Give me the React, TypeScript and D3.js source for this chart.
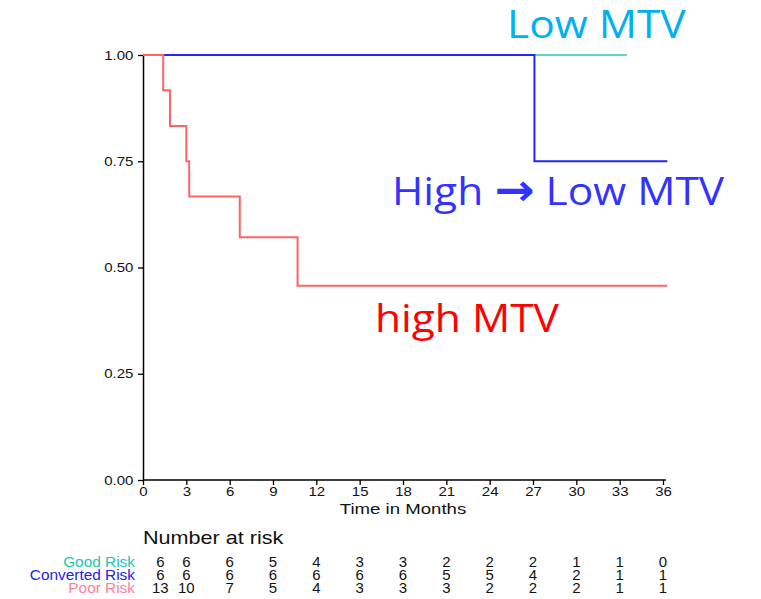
import * as d3 from "d3";
import {useRef, useEffect} from "react";

// survival steps: [time, survival]
const goodRisk = [[0, 1], [33.5, 1]];
const convertedRisk = [[0, 1], [27.1, 1], [27.1, 0.75], [36.3, 0.75]];
const poorRisk = [
  [0, 1], [1.4, 1], [1.4, 0.917], [1.87, 0.917], [1.87, 0.833], [3.0, 0.833],
  [3.0, 0.75], [3.2, 0.75], [3.2, 0.667], [6.7, 0.667], [6.7, 0.571],
  [10.7, 0.571], [10.7, 0.457], [36.3, 0.457]
];

const xTicks = [0, 3, 6, 9, 12, 15, 18, 21, 24, 27, 30, 33, 36];
const yTicks = [0, 0.25, 0.5, 0.75, 1];

const riskTimes = [1.2, 3, 6, 9, 12, 15, 18, 21, 24, 27, 30, 33, 36];
const riskLabels = ["Good Risk", "Converted Risk", "Poor Risk"];
const riskColors = ["#22c4b4", "#2222ee", "#ff7f9a"];
const riskGood = [6, 6, 6, 5, 4, 3, 3, 2, 2, 2, 1, 1, 0];
const riskConverted = [6, 6, 6, 6, 6, 6, 6, 5, 5, 4, 2, 1, 1];
const riskPoor = [13, 10, 7, 5, 4, 3, 3, 3, 2, 2, 2, 1, 1];

const arial = "Liberation Sans, Arial, sans-serif";
const calibri = "Open Sans, Lato, sans-serif";

// the source picture is stretched sideways, so texts get a horizontal scale
function SText({x, y, sx = 1.2, children, ...rest}) {
  return (
    <g transform={`translate(${x},${y}) scale(${sx},1)`}>
      <text {...rest}>{children}</text>
    </g>
  );
}

export default function App({
  width = 761,
  height = 599,
  marginTop = 55,
  marginLeft = 143,
  plotRight = 663,
  plotBottom = 480
}) {
  const gx = useRef(null);
  const gy = useRef(null);
  const x = d3.scaleLinear([0, 36], [marginLeft, plotRight]);
  const y = d3.scaleLinear([0, 1], [plotBottom, marginTop]);
  const line = d3.line().x((d) => x(d[0])).y((d) => y(d[1]));

  useEffect(() => {
    const ax = d3.select(gx.current);
    ax.call(d3.axisBottom(x).tickValues(xTicks).tickSize(5).tickSizeOuter(0).tickPadding(2));
    ax.select(".domain").attr("d", `M${marginLeft},0H${x(36.2)}`).attr("stroke-width", 1.5);
    ax.selectAll(".tick line").attr("stroke-width", 1.3);
    ax.selectAll("text").attr("font-size", 12.5).attr("font-family", arial).attr("fill", "#111")
      .attr("transform", "scale(1.2,1)");
  }, [x]);

  useEffect(() => {
    const ay = d3.select(gy.current);
    ay.call(d3.axisLeft(y).tickValues(yTicks).tickFormat(d3.format(".2f")).tickSize(5).tickSizeOuter(0).tickPadding(3));
    ay.selectAll(".tick line").attr("stroke-width", 1.3);
    ay.selectAll(".domain").attr("stroke-width", 1.5);
    ay.selectAll("text").attr("font-size", 12.5).attr("font-family", arial).attr("fill", "#111")
      .attr("transform", "scale(1.2,1)");
  }, [y]);

  const rows = [riskGood, riskConverted, riskPoor];

  return (
    <svg width={width} height={height} style={{position: "absolute", left: 0, top: 0, background: "#fff"}}>
      <g ref={gx} transform={`translate(0,${plotBottom})`} />
      <g ref={gy} transform={`translate(${marginLeft},0)`} />
      <SText x={x(18)} y={514} textAnchor="middle" fontSize={15.5} fontFamily={arial} fill="#111">Time in Months</SText>

      <path fill="none" stroke="#2cc4c4" strokeWidth={1.5} d={line(goodRisk)} />
      <path fill="none" stroke="#2424f4" strokeWidth={2} d={line(convertedRisk)} />
      <path fill="none" stroke="#ff6464" strokeWidth={2} d={line(poorRisk)} />

      <SText x={507} y={38} sx={1.09} fontSize={39} fontFamily={calibri} fill="#00b0f0">Low MTV</SText>
      <SText x={392} y={205} sx={1.09} fontSize={39} fontFamily={calibri} fill="#3333ff">
        High <tspan fontWeight="bold" fontFamily="DejaVu Sans, sans-serif" fontSize={44}>→</tspan> Low MTV
      </SText>
      <SText x={375} y={332} sx={1.09} fontSize={39} fontFamily={calibri} fill="#ff0000">high MTV</SText>

      <SText x={marginLeft} y={544} fontSize={18} fontFamily={arial} fill="#111">Number at risk</SText>
      {riskLabels.map((lab, i) => (
        <SText key={lab} x={135} y={567 + i * 13} sx={1.1} textAnchor="end" fontSize={14} fontFamily={arial} fill={riskColors[i]}>{lab}</SText>
      ))}
      {rows.map((row, i) => (
        <g key={i}>
          {row.map((v, j) => (
            <SText key={j} x={x(riskTimes[j])} y={567 + i * 13} sx={1.07} textAnchor="middle" fontSize={14} fontFamily={arial} fill="#111">{v}</SText>
          ))}
        </g>
      ))}
    </svg>
  );
}
